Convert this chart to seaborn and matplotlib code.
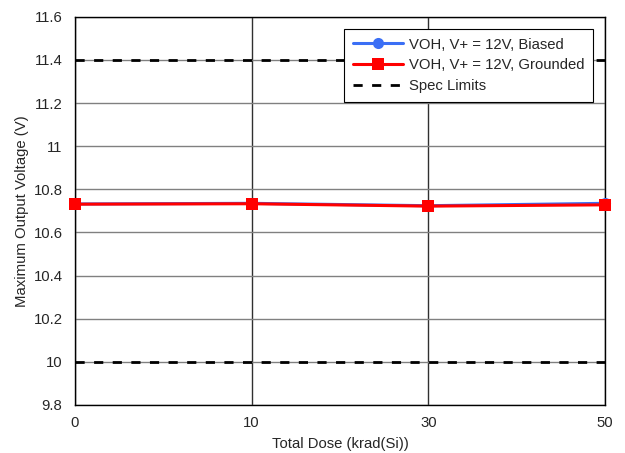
import numpy as np
import pandas as pd
import matplotlib
matplotlib.use('Agg')
import matplotlib.pyplot as plt
import seaborn as sns

dose_labels = ['0', '10', '30', '50']
voh_biased = [10.732, 10.735, 10.724, 10.735]
voh_grounded = [10.731, 10.733, 10.722, 10.728]
spec_limits = [10.0, 11.4]

sns.set_style('white')
plt.rcParams['font.family'] = ['Liberation Sans', 'DejaVu Sans']
FS = 10.7

pos = np.arange(len(dose_labels))
df = pd.DataFrame({
    'pos': np.concatenate([pos, pos]),
    'v': voh_biased + voh_grounded,
    'series': ['VOH, V+ = 12V, Biased'] * len(pos) + ['VOH, V+ = 12V, Grounded'] * len(pos),
})

fig = plt.figure(figsize=(6.25, 4.53), dpi=100)
ax = fig.add_axes([0.12, 0.106, 0.848, 0.857])

sns.lineplot(data=df[df.series.str.endswith('Biased')], x='pos', y='v', ax=ax,
             color='#3b6ff5', marker='o', markersize=8, linewidth=2.2,
             markeredgewidth=0, label='VOH, V+ = 12V, Biased', zorder=3,
             clip_on=False)
sns.lineplot(data=df[df.series.str.endswith('Grounded')], x='pos', y='v', ax=ax,
             color='#ff0000', marker='s', markersize=8, linewidth=2.2,
             markeredgewidth=0, label='VOH, V+ = 12V, Grounded', zorder=4,
             clip_on=False)
for i, s in enumerate(spec_limits):
    ax.axhline(s, color='black', linestyle=(0, (3.3, 3.4)), linewidth=2,
               label='Spec Limits' if i == 0 else None, zorder=2)

ax.set_xlim(pos[0], pos[-1])
ax.set_ylim(9.8, 11.6)
ax.set_xticks(pos)
ax.set_xticklabels(dose_labels)
yt = np.round(np.arange(9.8, 11.61, 0.2), 1)
ax.set_yticks(yt)
ax.set_yticklabels([f'{v:g}' for v in yt])
ax.tick_params(axis='y', labelsize=FS, length=0, pad=9)
ax.tick_params(axis='x', labelsize=FS, length=0, pad=8)
ax.grid(axis='y', color='#808080', linewidth=1)
ax.grid(axis='x', color='#303030', linewidth=1)
ax.set_axisbelow(True)
for sp in ax.spines.values():
    sp.set_color('black')
    sp.set_linewidth(1)

ax.set_xlabel('Total Dose (krad(Si))', fontsize=FS, labelpad=5)
ax.set_ylabel('Maximum Output Voltage (V)', fontsize=FS, labelpad=3)

leg = ax.legend(loc='upper right', fontsize=FS, frameon=True, fancybox=False,
                borderaxespad=0.8, handlelength=3.4, handletextpad=0.35,
                labelspacing=0.45, borderpad=0.6)
leg.get_frame().set_edgecolor('black')
leg.get_frame().set_linewidth(0.8)
leg.get_frame().set_alpha(1)

fig.savefig('out.png', dpi=100)
